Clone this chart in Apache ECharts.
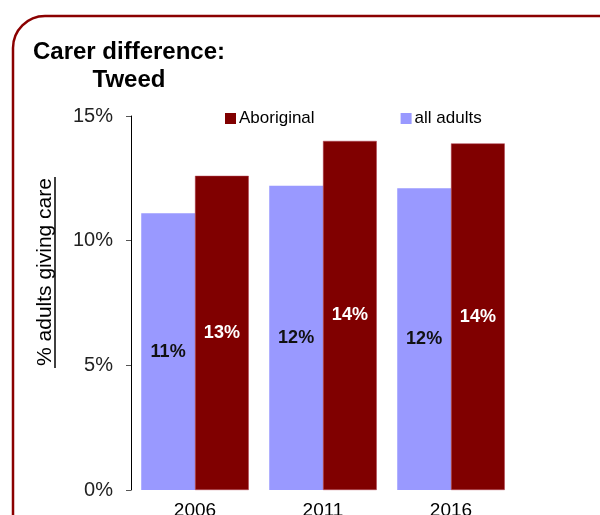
<!DOCTYPE html>
<html><head><meta charset="utf-8">
<script src="https://cdn.jsdelivr.net/npm/echarts@6/dist/echarts.min.js"></script>
<style>html,body{margin:0;padding:0;background:#fff}#c{width:600px;height:515px}</style>
</head><body><div id="c"></div>
<script>
const categories = ['2006', '2011', '2016'];
const allAdults = [11.1, 12.2, 12.1];
const aboriginal = [12.6, 14.0, 13.9];
const yTicks = [0, 5, 10, 15];

const chart = echarts.init(document.getElementById('c'), null, {renderer: 'canvas'});
const FONT = '"Liberation Sans", Arial, sans-serif';
chart.setOption({
  animation: false,
  backgroundColor: '#ffffff',
  graphic: [
    {type: 'rect', shape: {x: 13, y: 16, width: 700, height: 600, r: 32}, style: {fill: 'none', stroke: '#8b0000', lineWidth: 2.5}, z: 0},
    {type: 'text', x: 129, y: 38, style: {text: 'Carer difference:\nTweed', font: 'bold 24px ' + FONT, fill: '#000', textAlign: 'center', lineHeight: 28}},
    {type: 'text', x: 45, y: 272, rotation: Math.PI / 2, style: {text: '% adults giving care', font: '21px ' + FONT, fill: '#000', textAlign: 'center', textVerticalAlign: 'middle'}},
    {type: 'line', shape: {x1: 55, y1: 177, x2: 55, y2: 368}, style: {stroke: '#000', lineWidth: 1.5}}
  ],
  legend: {
    data: ['Aboriginal', 'all adults'],
    left: 220, top: 105,
    itemWidth: 11, itemHeight: 11, itemGap: 86,
    icon: 'rect',
    itemStyle: {borderWidth: 0},
    textStyle: {fontFamily: FONT, fontSize: 17, color: '#000', padding: [0, 0, 0, -2]}
  },
  grid: {left: 131, top: 116, width: 384, height: 374, outerBoundsMode: 'none', containLabel: false},
  xAxis: {
    type: 'category', data: categories,
    axisLine: {show: false}, axisTick: {show: false},
    axisLabel: {fontFamily: FONT, fontSize: 19, color: '#000', margin: 11}
  },
  yAxis: {
    type: 'value', min: 0, max: 15, interval: 5,
    axisLine: {show: true, lineStyle: {color: '#000', width: 1}},
    axisTick: {show: true, length: 5, lineStyle: {color: '#555'}},
    splitLine: {show: false},
    axisLabel: {fontFamily: FONT, fontSize: 20, color: '#222', margin: 18,
      formatter: v => yTicks.includes(v) ? v + '%' : ''}
  },
  series: [
    {name: 'all adults', type: 'bar', data: allAdults, barWidth: '42%', barGap: '0%',
     itemStyle: {color: '#9999ff'},
     label: {show: true, position: 'inside', formatter: p => Math.round(p.value) + '%', fontFamily: FONT, fontWeight: 'bold', fontSize: 18, color: '#111'}},
    {name: 'Aboriginal', type: 'bar', data: aboriginal, barWidth: '42%', barGap: '0%',
     itemStyle: {color: '#800000', borderColor: '#b04050', borderWidth: 0.5},
     label: {show: true, position: 'inside', formatter: p => Math.round(p.value) + '%', fontFamily: FONT, fontWeight: 'bold', fontSize: 18, color: '#fff'}}
  ]
});
</script></body></html>
